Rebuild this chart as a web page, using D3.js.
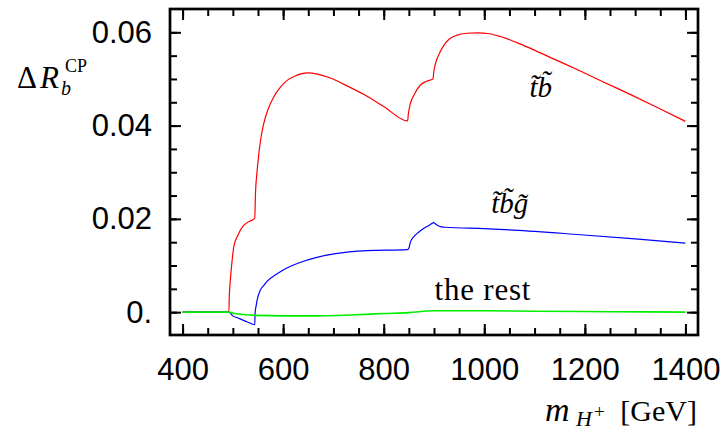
<!DOCTYPE html>
<html>
<head>
<meta charset="utf-8">
<script src="https://cdn.jsdelivr.net/npm/d3@7"></script>
<style>
  body { margin: 0; background: #fff; }
  .axis text { font-family: "Liberation Sans", Arial, sans-serif; font-size: 31px; fill: #000; }
  .axis line { stroke: #000; stroke-width: 2px; }
  .axis path { display: none; }
  .math { font-family: "Liberation Serif", "Times New Roman", serif; fill: #000; }
  .line { fill: none; }
</style>
</head>
<body>
<div id="chart"></div>
<script>
// [m_H+ in GeV, Delta R_b^CP]
const tbPoints = [
  [400, 0], [492, 0], [493, 0.0035], [495, 0.0069], [498, 0.0105], [502, 0.0141],
  [510, 0.0165], [519, 0.0183], [530, 0.0193], [543.5, 0.0201], [545, 0.0255],
  [548, 0.030], [551.7, 0.034], [556, 0.0375], [561.6, 0.0405], [570, 0.0435],
  [581.5, 0.0462], [595, 0.0483], [608, 0.0497], [625, 0.0507], [648, 0.0513],
  [670, 0.0510], [694, 0.0502], [720, 0.0489], [760, 0.0467], [800, 0.0441], [847.5, 0.0410],
  [849, 0.0425], [853, 0.0447], [860, 0.0465], [873, 0.0487], [885, 0.0495],
  [898, 0.0500], [899.5, 0.0515], [903, 0.0533], [910, 0.0553], [919.5, 0.0572],
  [930, 0.0585], [946, 0.0594], [965, 0.0598], [986, 0.0599], [1010, 0.0597],
  [1032, 0.0591], [1065, 0.0578], [1095, 0.0564], [1140, 0.0542], [1191, 0.0517],
  [1240, 0.0492], [1290, 0.0467], [1340, 0.0441], [1400, 0.0409]
];

const tbgPoints = [
  [400, 0], [492, 0], [500, -0.0008], [509, -0.0012], [520, -0.0017], [529, -0.0021],
  [543.5, -0.0027], [544.2, -0.0002], [546, 0.0012], [548.5, 0.0027], [555, 0.0048],
  [562, 0.0058], [568, 0.0066], [585, 0.0080], [601, 0.0091], [635, 0.0107],
  [665, 0.0117], [701, 0.0125], [767, 0.0132], [847, 0.0134], [850, 0.0137],
  [853, 0.0150], [860, 0.0162], [870, 0.0172], [880, 0.0180], [890, 0.0186],
  [899.5, 0.0192], [903, 0.0189], [907, 0.0186], [915, 0.0183], [923, 0.0182],
  [1000, 0.0179], [1059, 0.0176], [1191, 0.0166], [1300, 0.0157], [1400, 0.0148]
];

const restPoints = [
  [400, 0], [492, 0], [505, -0.0003], [520, -0.0005], [544, -0.0007], [600, -0.0008],
  [650, -0.0008], [734, -0.0006], [800, -0.0003], [850, -0.0001], [900, 0.0003],
  [950, 0.0003], [1000, 0.0003], [1100, 0.0002], [1250, 0.0001], [1400, 0.0]
];

const xTickValues = [400, 600, 800, 1000, 1200, 1400];
const xTickLabels = ["400", "600", "800", "1000", "1200", "1400"];
const yTickValues = [0, 0.02, 0.04, 0.06];
const yTickLabels = ["0.", "0.02", "0.04", "0.06"];

// curve labels, anchored at [m, value] of their left baseline
const curveLabels = [
  { text: "t\u0303b\u0303", at: [1090, 0.0462], italic: true },
  { text: "t\u0303b\u0303g\u0303", at: [1014, 0.0212], italic: true },
  { text: "the rest", at: [901, 0.0025], italic: false }
];

class RbChart {
  constructor(_parentElement) {
    this.parentElement = _parentElement;
    this.initVis();
  }

  initVis() {
    let vis = this;

    vis.margin = { top: 9, right: 29, bottom: 102, left: 170 };
    vis.width = 727 - vis.margin.left - vis.margin.right;
    vis.height = 437 - vis.margin.top - vis.margin.bottom;

    vis.root = d3
      .select("#" + vis.parentElement)
      .append("svg")
      .attr("width", 727)
      .attr("height", 437)
      .style("background", "#fff");

    vis.svg = vis.root
      .append("g")
      .attr("transform", "translate(" + vis.margin.left + "," + vis.margin.top + ")");

    // Scales
    vis.x = d3.scaleLinear().domain([375, 1425]).range([0, vis.width]);
    vis.y = d3.scaleLinear().domain([-0.0049, 0.065]).range([vis.height, 0]);

    let xMinor = d3.range(400, 1401, 50);
    let yMinor = d3.range(0, 0.0601, 0.005);

    // ticks on all four sides, pointing inward
    let sides = [
      { axis: d3.axisBottom, pos: "translate(0," + vis.height + ")", scale: vis.x, minor: xMinor, major: xTickValues, labels: xTickLabels, pad: 23 },
      { axis: d3.axisTop, pos: "translate(0,0)", scale: vis.x, minor: xMinor, major: xTickValues, labels: null },
      { axis: d3.axisLeft, pos: "translate(0,0)", scale: vis.y, minor: yMinor, major: yTickValues, labels: yTickLabels, pad: 18 },
      { axis: d3.axisRight, pos: "translate(" + vis.width + ",0)", scale: vis.y, minor: yMinor, major: yTickValues, labels: null }
    ];

    sides.forEach(function (s) {
      vis.svg
        .append("g")
        .attr("class", "axis")
        .attr("transform", s.pos)
        .call(s.axis(s.scale).tickValues(s.minor).tickSize(-7).tickFormat(""));

      let major = s.axis(s.scale).tickValues(s.major).tickSize(-11);
      if (s.labels) {
        major.tickPadding(s.pad).tickFormat(function (d, i) { return s.labels[i]; });
      } else {
        major.tickFormat("");
      }
      vis.svg.append("g").attr("class", "axis").attr("transform", s.pos).call(major);
    });

    vis.line = d3
      .line()
      .curve(d3.curveMonotoneX)
      .x(function (d) { return vis.x(d[0]); })
      .y(function (d) { return vis.y(d[1]); });

    vis.series = [
      { data: tbPoints, color: "#ff0000", width: 1.2 },
      { data: tbgPoints, color: "#0000ff", width: 1.2 },
      { data: restPoints, color: "#00ee00", width: 1.6 }
    ];

    // frame
    vis.svg
      .append("rect")
      .attr("x", 0)
      .attr("y", 0)
      .attr("width", vis.width)
      .attr("height", vis.height)
      .attr("fill", "none")
      .attr("stroke", "#000")
      .attr("stroke-width", 2.7);

    vis.updateVis();
    vis.drawTitles();
  }

  updateVis() {
    let vis = this;

    vis.svg
      .selectAll(".line")
      .data(vis.series)
      .enter()
      .append("path")
      .attr("class", "line")
      .attr("d", function (d) { return vis.line(d.data); })
      .attr("stroke", function (d) { return d.color; })
      .attr("stroke-width", function (d) { return d.width; });

    vis.svg
      .selectAll(".curve-label")
      .data(curveLabels)
      .enter()
      .append("text")
      .attr("class", "curve-label math")
      .attr("x", function (d) { return vis.x(d.at[0]); })
      .attr("y", function (d) { return vis.y(d.at[1]); })
      .style("font-size", function (d) { return d.italic ? "29px" : "31px"; })
      .style("font-style", function (d) { return d.italic ? "italic" : "normal"; })
      .style("letter-spacing", function (d) { return d.italic ? "0px" : "0.8px"; })
      .text(function (d) { return d.text; });
  }

  drawTitles() {
    let vis = this;

    // y axis title: Delta R_b^CP
    vis.root.append("text").attr("class", "math").attr("x", 17).attr("y", 88)
      .style("font-size", "31px").text("\u0394");
    vis.root.append("text").attr("class", "math").attr("x", 40).attr("y", 88)
      .style("font-size", "31px").style("font-style", "italic").text("R");
    vis.root.append("text").attr("class", "math").attr("x", 61).attr("y", 95)
      .style("font-size", "20px").style("font-style", "italic").text("b");
    vis.root.append("text").attr("class", "math").attr("x", 65).attr("y", 72)
      .style("font-size", "18px").text("CP");

    // x axis title: m_H+ [GeV]
    vis.root.append("text").attr("class", "math").attr("x", 545).attr("y", 421)
      .style("font-size", "34px").style("font-style", "italic").text("m");
    vis.root.append("text").attr("class", "math").attr("x", 576).attr("y", 426)
      .style("font-size", "22px").style("font-style", "italic").text("H");
    vis.root.append("text").attr("class", "math").attr("x", 594).attr("y", 418)
      .style("font-size", "19px").text("+");
    vis.root.append("text").attr("class", "math").attr("x", 697).attr("y", 421)
      .attr("text-anchor", "end").style("font-size", "30px").text("[GeV]");
  }
}

new RbChart("chart");
</script>
</body>
</html>
